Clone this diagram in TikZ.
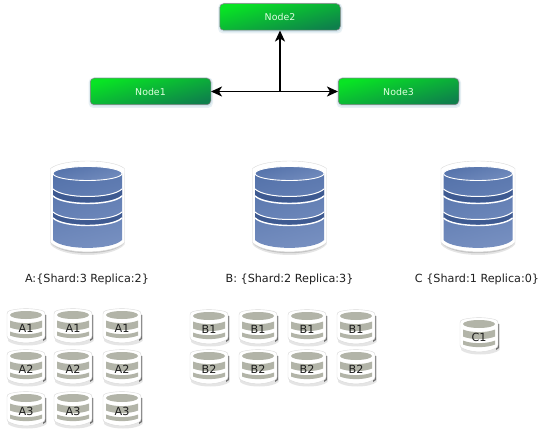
\documentclass[tikz,border=0pt]{standalone}
\usepackage{fontspec}
\setmainfont{DejaVu Sans}
\usetikzlibrary{arrows.meta}
\definecolor{dbdk}{RGB}{84,114,170}
\definecolor{dblt}{RGB}{118,143,192}
\definecolor{dbstrip}{RGB}{62,90,145}
\definecolor{dbgray}{RGB}{178,180,168}
\definecolor{nodelt}{RGB}{8,228,36}
\definecolor{nodedk}{RGB}{14,128,76}
\tikzset{
  x=1pt,y=-1pt,
  clusternode/.style={draw=black!50,line width=.5pt,rounded corners=4pt,minimum width=120.5pt,minimum height=26.5pt,inner sep=0pt,
    left color=nodelt,right color=nodedk,shading angle=15,text=white!88!green,font=\fontsize{9.4}{11}\selectfont},
  nodeglow/.style={fill=cyan!45!gray,opacity=.16,rounded corners=5pt},
  link/.style={line width=1.8pt,-{Stealth[length=11pt,width=10pt,inset=3pt]}},
  dblabel/.style={font=\fontsize{11.2}{13}\selectfont,text=black!88,inner sep=0pt},
  shardlabel/.style={font=\fontsize{11.2}{13}\selectfont,text=black!88,inner sep=0pt},
  sepline/.style={draw=white,line width=1pt},
  pics/bigdb/.style={code={
    \fill[black,opacity=.10] (-37,0) -- (-37,71) .. controls (-25,85) and (25,85) .. (37,71) -- (37,0) -- cycle;
    \fill[black,opacity=.14] (-36,0) -- (-36,70) .. controls (-25,83) and (25,83) .. (36,70) -- (36,0) -- cycle;
    \fill[white,draw=black!15,line width=.4pt] (-37,-5) -- (-37,69) .. controls (-25,81.5) and (25,81.5) .. (37,69) -- (37,-5) .. controls (25,-15) and (-25,-15) .. cycle;
    \path[left color=dbdk,right color=dblt,shading angle=15] (-34.5,0) -- (-34.5,66.5) .. controls (-24,77) and (24,77) .. (34.5,66.5) -- (34.5,0) .. controls (24,-9) and (-24,-9) .. cycle;
    \fill[dbstrip] (-34.5,16) .. controls (-24,26) and (24,26) .. (34.5,16) -- (34.5,21.5) .. controls (24,31.5) and (-24,31.5) .. (-34.5,21.5) -- cycle;
    \fill[dbstrip] (-34.5,39) .. controls (-24,49) and (24,49) .. (34.5,39) -- (34.5,44) .. controls (24,54) and (-24,54) .. (-34.5,44) -- cycle;
    \draw[sepline] (-34.5,15.5) .. controls (-24,25.5) and (24,25.5) .. (34.5,15.5);
    \draw[sepline,line width=1.4pt] (-34.5,22.5) .. controls (-24,32.5) and (24,32.5) .. (34.5,22.5);
    \draw[sepline] (-34.5,38.5) .. controls (-24,48.5) and (24,48.5) .. (34.5,38.5);
    \draw[sepline,line width=1.4pt] (-34.5,44.5) .. controls (-24,54.5) and (24,54.5) .. (34.5,44.5);
    \path[left color=dbdk,right color=dblt!90!dbdk,shading angle=15,draw=white,line width=.9pt] (0,0) ellipse [x radius=34.5,y radius=7];
  }},
  pics/smalldb/.style={code={
    \fill[black,opacity=.10] (-18,-11) -- (-18,15) .. controls (-12,21) and (14,21) .. (20.5,15) -- (20.5,-11) -- cycle;
    \fill[black,opacity=.5] (17,-12) -- (20,-11) -- (20,13) -- (17,15) -- cycle;
    \fill[white,draw=black!15,line width=.4pt] (-19,-12) .. controls (-19,-14) and (-18,-15) .. (-16,-15.5) .. controls (-6,-18) and (6,-18) .. (16,-15.5) .. controls (18,-15) and (19,-14) .. (19,-12) -- (19,10) .. controls (19,12) and (18,13) .. (16,13.5) .. controls (6,18) and (-6,18) .. (-16,13.5) .. controls (-18,13) and (-19,12) .. (-19,10) -- cycle;
    \fill[dbgray] (0,-11) ellipse [x radius=16,y radius=4];
    \fill[dbgray] (-16,-5.5) .. controls (-8,-2) and (8,-2) .. (16,-5.5) -- (16,1.5) .. controls (8,5) and (-8,5) .. (-16,1.5) -- cycle;
    \fill[dbgray] (-16,5.5) .. controls (-8,9) and (8,9) .. (16,5.5) -- (16,9.5) .. controls (8,13) and (-8,13) .. (-16,9.5) -- cycle;
  }},
}
\begin{document}
\begin{tikzpicture}
\useasboundingbox (0,0) rectangle (546,430);
\fill[white] (0,0) rectangle (546,430);
% cluster glow
\foreach \cx/\cy in {150.5/91.5,280/17,398.5/91.5}{
  \fill[nodeglow] (\cx-62,\cy-14) rectangle (\cx+62.5,\cy+16.5);
  \fill[nodeglow] (\cx-61,\cy-14) rectangle (\cx+61.5,\cy+15);
}
\node[clusternode] (n1) at (150.5,91.5) {Node1};
\node[clusternode] (n2) at (280,17) {Node2};
\node[clusternode] (n3) at (398.5,91.5) {Node3};
\coordinate (hub) at (n2.south |- n1.east);
\draw[link] (hub) -- (n1.east);
\draw[link] (hub) -- (n2.south);
\draw[link] (hub) -- (n3.west);
% big cylinders
\pic at (87.5,173.5) {bigdb};
\pic at (289.5,173.5) {bigdb};
\pic at (478,173.5) {bigdb};
\node[dblabel] (la) at (87,279) {A:\{Shard:3 Replica:2\}};
\node[dblabel] (lb) at (289.5,279) {B: \{Shard:2 Replica:3\}};
\node[dblabel] (lc) at (477,279) {C \{Shard:1 Replica:0\}};
% small cylinders
\foreach \px/\py/\pt/\pn in {
  26/326/A1/a1a,73/326/A1/a1b,122/326/A1/a1c,
  26/367/A2/a2a,73/367/A2/a2b,122/367/A2/a2c,
  26/409/A3/a3a,73/409/A3/a3b,122/409/A3/a3c,
  209/327/B1/b1a,258/327/B1/b1b,307/327/B1/b1c,356/327/B1/b1d,
  209/367/B2/b2a,258/367/B2/b2b,307/367/B2/b2c,356/367/B2/b2d,
  479/335/C1/c1a}{
  \pic at (\px,\py) {smalldb};
  \node[shardlabel] (\pn) at (\px,\py+2.5) {\pt};
}
\end{tikzpicture}
\end{document}
